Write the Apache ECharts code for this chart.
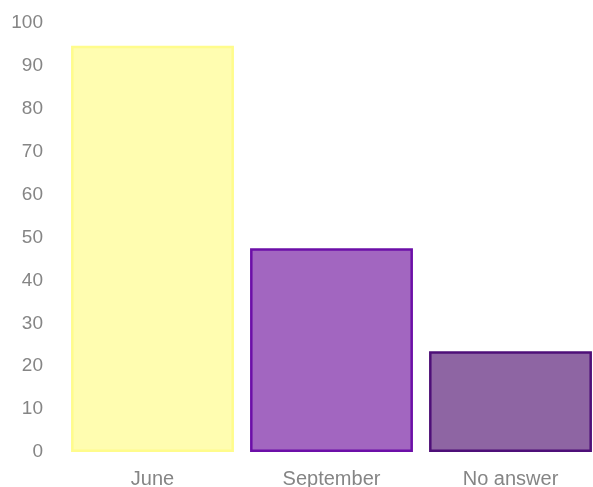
<!DOCTYPE html>
<html>
<head>
<meta charset="utf-8">
<script src="https://cdn.jsdelivr.net/npm/echarts@6/dist/echarts.min.js"></script>
<style>
    html, body { margin: 0; padding: 0; background: #fff; }
    #chart { width: 593px; height: 487px; }
</style>
</head>
<body>
<div id="chart"></div>
<script>
// datos
var categorias = ["June", "September", "No answer"];
var valores = [94.7, 47.5, 23.5];
var rellenos = ["#fffdb0", "#a266c0", "#8e65a3"];
var bordes = ["#fffc8c", "#6c0fa8", "#4e0f78"];

var chart = echarts.init(document.getElementById("chart"));
chart.setOption({
    animation: false,
    grid: { left: 63, width: 537, top: 23, height: 429, outerBoundsMode: "none" },
    xAxis: {
        type: "category",
        data: categorias,
        axisLine: { show: false },
        axisTick: { show: false },
        axisLabel: { color: "#858585", fontSize: 20, fontFamily: "Liberation Sans", margin: 17 }
    },
    yAxis: {
        type: "value",
        min: 0,
        max: 100,
        interval: 10,
        splitLine: { show: false },
        axisLine: { show: false },
        axisTick: { show: false },
        axisLabel: { color: "#858585", fontSize: 19, fontFamily: "Liberation Sans", margin: 20, padding: [4, 0, 0, 0] }
    },
    series: [
        {
            type: "bar",
            barCategoryGap: "9%",
            data: valores.map((v, i) => ({
                value: v,
                itemStyle: { color: rellenos[i], borderColor: bordes[i], borderWidth: 2.5 }
            }))
        }
    ]
});
</script>
</body>
</html>
